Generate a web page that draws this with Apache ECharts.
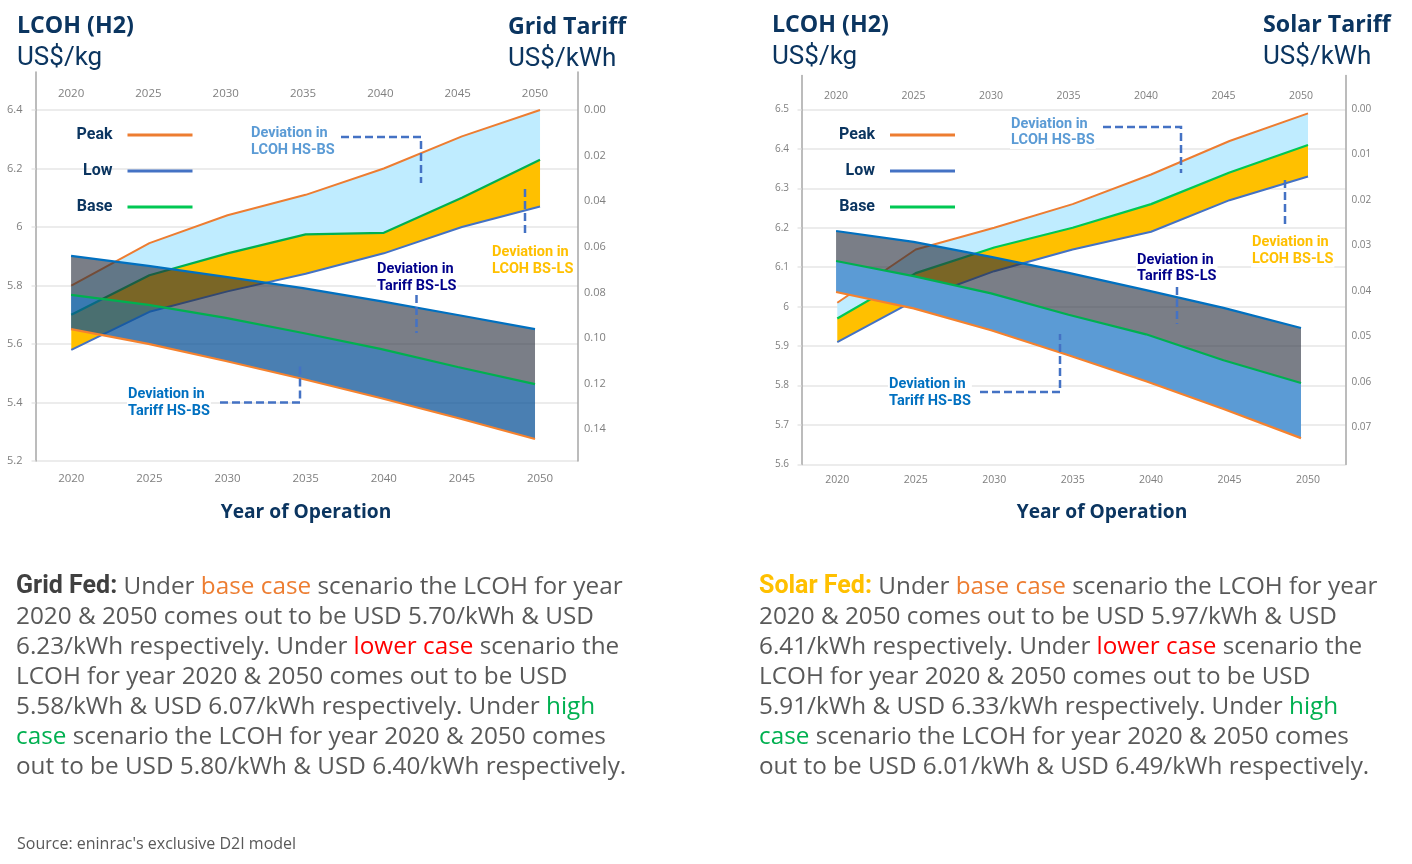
<!DOCTYPE html>
<html><head><meta charset="utf-8">
<style>html,body{margin:0;padding:0;background:#fff}#c{width:1412px;height:864px}</style>
<script src="https://cdn.jsdelivr.net/npm/echarts@6/dist/echarts.min.js"></script>
</head><body><div id="c"></div>
<script>
// ---------- data ----------
const years = [2020, 2025, 2030, 2035, 2040, 2045, 2050];
const gridLcohPeak = [5.80, 5.945, 6.04, 6.11, 6.20, 6.31, 6.40];
const gridLcohBase = [5.70, 5.835, 5.91, 5.975, 5.98, 6.10, 6.23];
const gridLcohLow = [5.58, 5.71, 5.78, 5.84, 5.91, 6.00, 6.07];
const gridTariffLow = [0.064, 0.0684, 0.0732, 0.0781, 0.0838, 0.0899, 0.0961];
const gridTariffBase = [0.0811, 0.0855, 0.0912, 0.0978, 0.1048, 0.1127, 0.1202];
const gridTariffPeak = [0.0961, 0.1026, 0.1101, 0.118, 0.1263, 0.1351, 0.1443];
const solarLcohPeak = [6.01, 6.145, 6.20, 6.26, 6.335, 6.42, 6.49];
const solarLcohBase = [5.97, 6.085, 6.15, 6.20, 6.26, 6.34, 6.41];
const solarLcohLow = [5.91, 6.017, 6.09, 6.145, 6.19, 6.27, 6.33];
const solarTariffLow = [0.0268, 0.0292, 0.0325, 0.036, 0.0398, 0.0437, 0.0481];
const solarTariffBase = [0.0334, 0.0367, 0.0405, 0.0452, 0.0495, 0.0552, 0.0602];
const solarTariffPeak = [0.0402, 0.0438, 0.0486, 0.0541, 0.0598, 0.0659, 0.0723];
const gridLcohTicks = [5.2, 5.4, 5.6, 5.8, 6, 6.2, 6.4];
const gridTariffTicks = [0, 0.02, 0.04, 0.06, 0.08, 0.10, 0.12, 0.14];
const solarLcohTicks = [5.6, 5.7, 5.8, 5.9, 6, 6.1, 6.2, 6.3, 6.4, 6.5];
const solarTariffTicks = [0, 0.01, 0.02, 0.03, 0.04, 0.05, 0.06, 0.07];
const legendNames = ['Peak', 'Low', 'Base'];

// ---------- style ----------
const FONT = 'Roboto';
const WIDE = '"Open Sans"';
const TICKFONT = '"Open Sans"';
const NAVY = '#0B3560';
const ORANGE = '#ED7D31', GREEN = '#00B050', LOWBLUE = '#4472C4', TARIFFBLUE = '#0070C0';
const DASH = '#4472C4';
const GRAY = '#7f7f7f';
const panels = [
  {left:35.5, top:72, width:542.5, height:389,
   xb:[2017.71,2052.43], xt:[2017.7,2052.78], yl:[5.2,6.53], yr:[-0.01667,0.15395],
   lTicks:gridLcohTicks, rTicks:gridTariffTicks, tick:11.5, lm:13, bm:12, tm:16,
   lcoh:[gridLcohPeak,gridLcohBase,gridLcohLow], tariff:[gridTariffPeak,gridTariffBase,gridTariffLow],
   baseColor:GREEN, hsBand:'rgba(11,82,151,0.74)', legendRight:1214.5, legendTop:120},
  {left:801.5, top:75.5, width:544, height:389,
   xb:[2017.72,2052.39], xt:[2017.77,2052.87], yl:[5.6,6.586], yr:[-0.00736,0.0781],
   lTicks:solarLcohTicks, rTicks:solarTariffTicks, tick:10.5, lm:12.5, bm:10, tm:15,
   lcoh:[solarLcohPeak,solarLcohBase,solarLcohLow], tariff:[solarTariffPeak,solarTariffBase,solarTariffLow],
   baseColor:'#00C853', hsBand:'#5B9BD5', legendRight:452, legendTop:120}
];

const grid=[], xAxis=[], yAxis=[], series=[], legend=[];
const pairs=a=>years.map((y,i)=>[y,a[i]]);

panels.forEach((p,k)=>{
  grid.push({left:p.left,top:p.top,width:p.width,height:p.height,containLabel:false});
  const xLab=(m,inside)=>({show:true,inside,margin:m,color:GRAY,fontFamily:TICKFONT,fontSize:p.tick,
    customValues:years,formatter:v=>String(v),hideOverlap:false});
  xAxis.push({type:'value',gridIndex:k,position:'bottom',min:p.xb[0],max:p.xb[1],splitLine:{show:false},
    axisLine:{show:false,onZero:false},axisTick:{show:false,customValues:years},axisLabel:xLab(p.bm,false)});
  xAxis.push({type:'value',gridIndex:k,position:'top',min:p.xt[0],max:p.xt[1],splitLine:{show:false},
    axisLine:{show:false,onZero:false},axisTick:{show:false,customValues:years},axisLabel:xLab(p.tm,true)});
  yAxis.push({type:'value',gridIndex:k,position:'left',min:p.yl[0],max:p.yl[1],
    axisLine:{show:true,onZero:false,lineStyle:{color:'#a6a6a6',width:1.5}},
    axisTick:{show:true,length:4,customValues:p.lTicks,lineStyle:{color:'#e6e6e6',width:1.5}},
    splitLine:{show:true,lineStyle:{color:'#e6e6e6',width:1.5}},
    axisLabel:{customValues:p.lTicks,margin:p.lm,padding:[2,0,0,0],color:GRAY,fontFamily:TICKFONT,fontSize:p.tick-0.5,formatter:v=>String(v)}});
  yAxis.push({type:'value',gridIndex:k,position:'right',inverse:true,min:p.yr[0],max:p.yr[1],
    axisLine:{show:true,onZero:false,lineStyle:{color:'#a6a6a6',width:1.5}},
    axisTick:{show:false,customValues:p.rTicks},splitLine:{show:false},
    axisLabel:{customValues:p.rTicks,margin:6,padding:[4,0,0,0],color:GRAY,fontFamily:TICKFONT,fontSize:p.tick-0.5,formatter:v=>v.toFixed(2)}});
  const xb=2*k, xt=2*k+1, yl=2*k, yr=2*k+1;
  // a filled band between two series, drawn through the axes' own scales
  const band=(name,upper,lower,xi,yi,color,z)=>series.push({type:'custom',name,coordinateSystem:'cartesian2d',
    xAxisIndex:xi,yAxisIndex:yi,silent:true,z,animation:false,clip:true,
    encode:{x:0,y:[1,2]},
    data:years.map((y,i)=>[y,upper[i],lower[i]]),
    renderItem:(params,api)=>{
      if(params.dataIndex!==0) return null;
      const top=years.map((y,i)=>api.coord([y,upper[i]]));
      const bot=years.map((y,i)=>api.coord([y,lower[i]])).reverse();
      return {type:'polygon',shape:{points:top.concat(bot)},style:{fill:color,stroke:null}};
    }});
  const line=(name,arr,xi,yi,color,w,z)=>series.push({type:'line',name,data:pairs(arr),xAxisIndex:xi,yAxisIndex:yi,
    showSymbol:false,symbol:'none',silent:true,z,lineStyle:{width:w,color,cap:'butt'},itemStyle:{color},animation:false});
  const [lp,lb,ll]=p.lcoh, [tp,tb,tl]=p.tariff;
  band('LCOH BS-LS '+k,lb,ll,xb,yl,'#FFC000',2);
  band('LCOH HS-BS '+k,lp,lb,xb,yl,'#BFECFF',2);
  line('Peak',lp,xb,yl,ORANGE,2,3);
  line('Low',ll,xb,yl,LOWBLUE,2,3);
  line('Base',lb,xb,yl,p.baseColor,2.2,3);
  band('Tariff BS-LS '+k,tb,tl,xt,yr,'rgba(40,47,61,0.62)',4);
  band('Tariff HS-BS '+k,tp,tb,xt,yr,p.hsBand,4);
  line('Tariff Peak',tp,xt,yr,'#F5822E',2.2,5);
  line('Tariff Low',tl,xt,yr,TARIFFBLUE,2.2,5);
  line('Tariff Base',tb,xt,yr,GREEN,2.2,5);
  legend.push({data:[{name:'Peak',itemStyle:{color:ORANGE}},{name:'Low',itemStyle:{color:LOWBLUE}},{name:'Base',itemStyle:{color:'#00C853'}}],
    orient:'vertical',align:'right',right:p.legendRight,top:p.legendTop,
    selectedMode:false,icon:'rect',itemWidth:65,itemHeight:3,itemGap:16,
    textStyle:{color:NAVY,fontFamily:FONT,fontWeight:'bold',fontSize:16,lineHeight:20,padding:[0,10,0,0]}});
});

// ---------- text and call-outs ----------
const g=[];
const txt=(x,y,text,size,color,weight,extra,family,z)=>g.push(Object.assign({type:'text',x,y,silent:true,z:z||10,
  style:Object.assign({text,fill:color,fontFamily:family||FONT,fontSize:size,fontWeight:weight||'normal',verticalAlign:'middle'},extra||{})}));
txt(17,26,'LCOH (H2)',23.2,NAVY,'bold',null,WIDE); txt(17,58,'US$/kg',26,NAVY,'normal',null,FONT);
txt(508,27,'Grid Tariff',23.2,NAVY,'bold',null,WIDE); txt(508,59,'US$/kWh',26,NAVY,'normal',null,FONT);
txt(772,25,'LCOH (H2)',23.2,NAVY,'bold',null,WIDE); txt(772,57,'US$/kg',26,NAVY,'normal',null,FONT);
txt(1263,25,'Solar Tariff',23.2,NAVY,'bold',null,WIDE); txt(1263,57,'US$/kWh',26,NAVY,'normal',null,FONT);
txt(306,513,'Year of Operation',19.2,NAVY,'bold',{align:'center'},WIDE);
txt(1102,513,'Year of Operation',19.2,NAVY,'bold',{align:'center'},WIDE);

const note=(x,y,t,c)=>txt(x,y,t,14.5,c,'bold',{lineHeight:16.5,backgroundColor:'#fff',padding:[0,1]},FONT,15);
note(250,142,'Deviation in\nLCOH HS-BS','#5B9BD5');
note(491,261,'Deviation in\nLCOH BS-LS','#FFC000');
note(376,278,'Deviation in\nTariff BS-LS','#00008B');
note(127,403,'Deviation in\nTariff HS-BS','#0070C0');
note(1010,132.5,'Deviation in\nLCOH HS-BS','#5B9BD5');
note(1251,251,'Deviation in\nLCOH BS-LS','#FFC000');
note(1136,268.5,'Deviation in\nTariff BS-LS','#00008B');
note(888,393,'Deviation in\nTariff HS-BS','#0070C0');

const dash=pts=>g.push({type:'polyline',silent:true,z:20,shape:{points:pts},style:{stroke:DASH,lineWidth:2.5,fill:null,lineDash:[8,4]}});
dash([[341,137],[421,137],[421,183]]);
dash([[525,189],[525,237]]);
dash([[416.5,295],[416.5,333]]);
dash([[220,402.5],[300,402.5],[300,363]]);
dash([[1103,127],[1181,127],[1181,173]]);
dash([[1285,180],[1285,226]]);
dash([[1177,287],[1177,324]]);
dash([[980,392],[1060,392],[1060,334]]);

const BODY=24.3;
const rich={n:{fill:'#595959',fontFamily:WIDE,fontSize:BODY},
  g:{fill:'#404040',fontFamily:FONT,fontSize:25,fontWeight:'bold'},
  s:{fill:'#FFC000',fontFamily:FONT,fontSize:25,fontWeight:'bold'},
  o:{fill:ORANGE,fontFamily:WIDE,fontSize:BODY},
  r:{fill:'#FF0000',fontFamily:WIDE,fontSize:BODY},
  e:{fill:GREEN,fontFamily:WIDE,fontSize:BODY}};
const para=(x,lines)=>lines.forEach((t,i)=>g.push({type:'text',x,y:587+30*i,silent:true,z:10,style:{text:t,rich,fontFamily:WIDE,fontSize:BODY,verticalAlign:'middle'}}));
para(16,['{g|Grid Fed:}{n| Under }{o|base case}{n| scenario the LCOH for year}',
 '{n|2020 & 2050 comes out to be USD 5.70/kWh & USD}',
 '{n|6.23/kWh respectively. Under }{r|lower case}{n| scenario the}',
 '{n|LCOH for year 2020 & 2050 comes out to be USD}',
 '{n|5.58/kWh & USD 6.07/kWh respectively. Under }{e|high}',
 '{e|case}{n| scenario the LCOH for year 2020 & 2050 comes}',
 '{n|out to be USD 5.80/kWh & USD 6.40/kWh respectively.}']);
para(759,['{s|Solar Fed:}{n| Under }{o|base case}{n| scenario the LCOH for year}',
 '{n|2020 & 2050 comes out to be USD 5.97/kWh & USD}',
 '{n|6.41/kWh respectively. Under }{r|lower case}{n| scenario the}',
 '{n|LCOH for year 2020 & 2050 comes out to be USD}',
 '{n|5.91/kWh & USD 6.33/kWh respectively. Under }{e|high}',
 '{e|case}{n| scenario the LCOH for year 2020 & 2050 comes}',
 '{n|out to be USD 6.01/kWh & USD 6.49/kWh respectively.}']);
txt(17,844,"Source: eninrac's exclusive D2I model",16,'#595959','normal',null,WIDE);

const chart=echarts.init(document.getElementById('c'));
chart.setOption({animation:false,backgroundColor:'#fff',grid,xAxis,yAxis,series,legend,graphic:{elements:g}});
</script></body></html>
